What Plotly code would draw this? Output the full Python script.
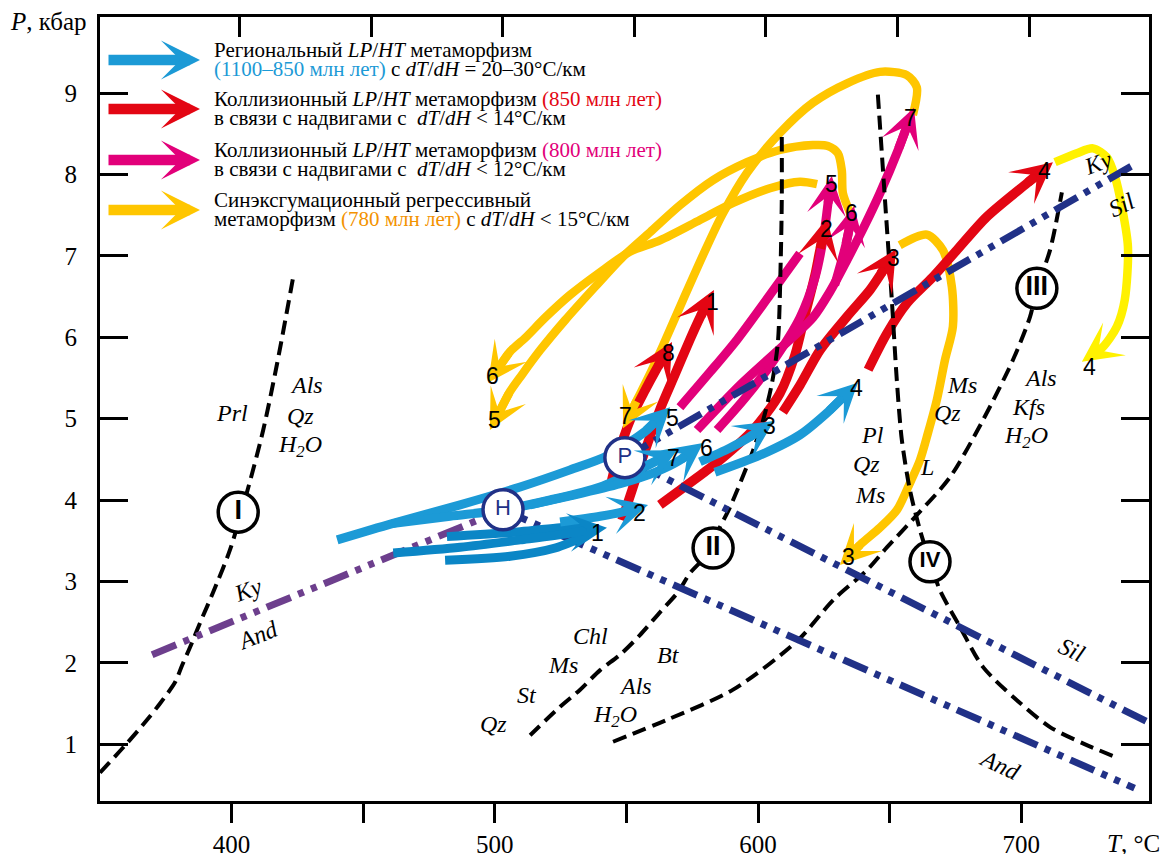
import plotly.graph_objects as go

SERIF = "Liberation Serif"
SANS = "Liberation Sans"

GOLD = "#ffc600"
LEMON = "#fff100"
RED = "#e30613"
MAGENTA = "#e2007a"
BLUE = "#1c9ad6"
BLUE_DK = "#0b86c6"
NAVY = "#213187"
PURPLE = "#6d3f8d"
ORANGE = "#f39200"

# ---------------- axes ----------------
T_TICKS = [400, 450, 500, 550, 600, 650, 700]
T_TICK_TEXT = ["400", "", "500", "", "600", "", "700"]
P_TICKS = [1, 2, 3, 4, 5, 6, 7, 8, 9]

# ---------------- reaction curves (T, °C ; P, kbar) ----------------
rxnI_T = [350.0, 360.2, 367.9, 372.8, 378.5, 381.2, 384.2, 388.0, 392.9, 399.4, 406.3, 412.0, 417.3, 423.4]
rxnI_P = [0.65, 1.01, 1.30, 1.50, 1.76, 1.97, 2.19, 2.49, 2.86, 3.39, 4.15, 4.86, 5.68, 6.74]

rxnII_T = [609.0, 609.0, 608.6, 607.5, 605.3, 601.9, 598.1, 589.3, 584.4, 582.9, 574.1, 569.6, 562.7,
           555.1, 547.6, 540.0, 532.4, 524.8, 513.4]
rxnII_P = [8.46, 7.69, 6.95, 5.93, 5.44, 4.98, 4.61, 3.91, 3.59, 3.41, 3.10, 2.87, 2.62,
           2.34, 2.10, 1.91, 1.67, 1.46, 1.11]

rxnIII_T = [544.9, 565.4, 590.5, 615.2, 628.5, 641.4, 649.0, 659.6, 672.9, 685.4, 696.8, 703.3, 705.9, 710.9, 715.4]
rxnIII_P = [1.03, 1.30, 1.67, 2.28, 2.77, 3.14, 3.42, 3.79, 4.28, 4.98, 5.72, 6.25, 6.60, 7.07, 7.78]

rxnIV_T = [645.5, 648.2, 650.8, 652.7, 654.6, 657.7, 661.5, 665.3, 669.1, 676.7, 685.4, 698.3, 710.9, 723.4, 736.7]
rxnIV_P = [8.98, 7.69, 6.46, 5.47, 4.74, 4.12, 3.63, 3.24, 2.89, 2.44, 1.95, 1.54, 1.21, 1.01, 0.83]

# Al2SiO5 equilibria (H - Holdaway, P - Pattison triple points)
ky_and_T = [369.8, 503.1]
ky_and_P = [2.10, 3.88]
and_sil_H_T = [503.1, 743.0]
and_sil_H_P = [3.88, 0.46]
and_sil_P_T = [549.4, 748.1]
and_sil_P_P = [4.52, 1.27]
ky_sil_P_T = [549.4, 743.9]
ky_sil_P_P = [4.52, 8.14]

# ---------------- P-T paths ----------------
# synexhumation regressive paths (780 Ma)
y3_T = [653.8, 664.1, 670.2, 673.6, 674.0, 671.0, 667.9, 664.5, 661.5, 657.7, 652.8, 646.3, 639.4, 631.1]
y3_P = [7.13, 7.26, 7.07, 6.62, 6.13, 5.72, 5.23, 4.82, 4.49, 4.21, 3.88, 3.66, 3.47, 3.20]
y7_T = [658.8, 660.3, 656.5, 646.3, 633.8, 620.8, 608.3, 595.8, 586.3, 579.1, 571.5, 563.9, 558.2, 554.0, 548.7]
y7_P = [8.73, 9.07, 9.22, 9.26, 9.12, 8.88, 8.51, 8.02, 7.50, 7.01, 6.46, 5.90, 5.50, 5.23, 4.88]
y5_T = [634.8, 632.2, 631.8, 630.3, 626.5, 620.8, 608.3, 595.8, 582.9, 570.3, 559.0, 548.7, 538.1,
        526.7, 517.2, 510.3, 505.7, 498.1]
y5_P = [7.54, 7.77, 8.05, 8.26, 8.35, 8.36, 8.30, 8.15, 7.93, 7.62, 7.29, 6.99, 6.62,
        6.21, 5.84, 5.54, 5.33, 4.86]
y6_T = [622.4, 615.9, 604.5, 590.5, 577.9, 562.7, 551.3, 540.0, 528.6, 519.1, 511.5, 505.7, 497.4]
y6_P = [7.88, 7.91, 7.83, 7.65, 7.44, 7.19, 7.05, 6.80, 6.52, 6.24, 5.99, 5.82, 5.44]
y4_T = [712.8, 721.1, 727.2, 732.5, 735.6, 738.2, 740.5, 739.3, 736.3, 731.0, 723.0]
y4_P = [8.15, 8.26, 8.32, 8.21, 7.97, 7.60, 7.11, 6.46, 6.13, 5.88, 5.70]

# collisional paths, 850 Ma
r1_T = [548.3, 552.1, 557.1, 562.7, 568.4, 574.1, 577.9, 583.2]
r1_P = [3.75, 4.12, 4.61, 5.11, 5.54, 5.97, 6.24, 6.58]
r8_T = [543.8, 546.8, 551.4, 557.1, 561.6, 567.3]
r8_P = [4.16, 4.55, 4.98, 5.35, 5.62, 5.94]
r2_T = [562.7, 579.1, 585.5, 598.1, 608.3, 614.0, 617.8, 621.6, 623.5, 626.2]
r2_P = [3.94, 4.33, 4.49, 4.86, 5.31, 5.78, 6.27, 6.76, 7.07, 7.46]
r3_T = [609.4, 615.9, 623.5, 633.7, 642.5, 646.3, 652.4]
r3_P = [5.08, 5.41, 5.84, 6.25, 6.58, 6.76, 7.08]
r4_T = [641.8, 649.0, 656.6, 666.4, 675.5, 686.9, 702.1, 712.0]
r4_P = [5.60, 6.05, 6.42, 6.74, 7.07, 7.48, 7.89, 8.15]

# collisional paths, 800 Ma
ma_T = [570.3, 581.7, 592.0, 604.5, 615.9]
ma_P = [5.14, 5.57, 5.97, 6.52, 7.03]
m5_T = [584.4, 595.0, 605.6, 615.9, 621.6, 625.0, 626.5, 628.0]
m5_P = [4.86, 5.25, 5.70, 6.24, 6.73, 7.26, 7.63, 7.98]
m6_T = [629.1, 633.3, 636.4]
m6_P = [6.64, 7.13, 7.61]
m7_T = [576.8, 593.1, 612.1, 620.8, 627.3, 633.8, 640.6, 646.3, 653.2, 659.2]
m7_P = [4.86, 5.41, 5.97, 6.24, 6.56, 6.95, 7.38, 7.77, 8.30, 8.82]

# regional paths, 1100-850 Ma
b5_T = [440.1, 461.0, 486.8, 509.6, 528.6, 542.6, 557.0, 566.6]
b5_P = [3.51, 3.71, 3.94, 4.16, 4.37, 4.54, 4.84, 5.14]
b7_T = [461.0, 483.0, 503.1, 521.0, 540.0, 557.0, 569.2]
b7_P = [3.71, 3.80, 3.88, 4.00, 4.16, 4.41, 4.61]
b6_T = [513.3, 528.6, 547.6, 560.8, 570.3, 579.1]
b6_P = [3.94, 4.05, 4.20, 4.34, 4.49, 4.70]
b2_T = [524.8, 540.0, 548.3, 558.2]
b2_P = [3.73, 3.80, 3.85, 3.94]
b3_T = [577.9, 589.3, 596.1, 606.0]
b3_P = [4.47, 4.64, 4.76, 4.97]
b4_T = [583.6, 600.7, 615.9, 626.5, 637.9]
b4_P = [4.34, 4.55, 4.80, 5.08, 5.44]
b1_T = [461.4, 486.8, 509.6, 528.6, 535.3, 542.6]
b1_P = [3.35, 3.42, 3.51, 3.59, 3.63, 3.66]
b1a_T = [481.8, 509.6, 524.8, 535.3]
b1a_P = [3.55, 3.61, 3.66, 3.68]
b1c_T = [481.1, 505.8, 522.9, 535.3]
b1c_P = [3.26, 3.31, 3.41, 3.57]

# labelled points (circles)
node_names = ["I", "H", "P", "II", "III", "IV"]
node_T = [402.5, 503.1, 549.4, 582.9, 705.9, 665.3]
node_P = [3.85, 3.88, 4.52, 3.41, 6.60, 3.24]

# mineral assemblage labels: text, T, P, angle
field_labels = [
    ("Prl", 400.2, 5.07, 0), ("Als", 428.3, 5.41, 0), ("Qz", 426.0, 5.03, 0),
    ("H<sub>2</sub>O", 426.0, 4.66, 0),
    ("Ky", 406.3, 2.89, -20), ("And", 410.1, 2.34, -22),
    ("Chl", 536.2, 2.33, 0), ("Ms", 525.9, 1.97, 0), ("St", 512.2, 1.60, 0), ("Qz", 499.3, 1.25, 0),
    ("Bt", 565.8, 2.10, 0), ("Als", 553.3, 1.72, 0), ("H<sub>2</sub>O", 545.7, 1.35, 0),
    ("Pl", 643.3, 4.80, 0), ("Qz", 641.0, 4.44, 0), ("Ms", 642.5, 4.06, 0), ("L", 664.1, 4.41, 0),
    ("Ms", 677.4, 5.41, 0), ("Qz", 672.1, 5.07, 0),
    ("Als", 707.1, 5.50, 0), ("Kfs", 702.9, 5.14, 0), ("H<sub>2</sub>O", 701.8, 4.77, 0),
    ("Ky", 729.1, 8.14, -20), ("Sil", 738.2, 7.62, -25),
    ("Sil", 719.2, 2.16, 25), ("And", 691.9, 0.74, 25),
]

fig = go.Figure()
number_labels = []


def add_line(T, P, color, width, dash=None, shape="spline"):
    fig.add_trace(go.Scatter(
        x=T, y=P, mode="lines", hoverinfo="skip", showlegend=False,
        line=dict(color=color, width=width, dash=dash, shape=shape, smoothing=0.8),
    ))


def add_path(T, P, color, width, label=None, shift=(0, 0), head=True, size=0.72):
    if head:
        # body runs into the middle of the last segment, hidden under the head
        mid_T = 0.5 * (T[-2] + T[-1])
        mid_P = 0.5 * (P[-2] + P[-1])
        add_line(list(T[:-1]) + [mid_T], list(P[:-1]) + [mid_P], color, width)
        fig.add_annotation(
            x=T[-1], y=P[-1], ax=T[-2], ay=P[-2], xref="x", yref="y", axref="x", ayref="y",
            text="", showarrow=True, arrowhead=3, arrowwidth=width, arrowsize=size,
            arrowcolor=color, standoff=0, startstandoff=0,
        )
    else:
        add_line(T, P, color, width)
    if label is not None:
        number_labels.append((label, T[-1], P[-1], shift))


# synexhumation paths (bottom layer)
add_path(y7_T, y7_P, GOLD, 8.5, "7", (2, 12), size=0.78)
add_path(y5_T, y5_P, GOLD, 8.5, "5", (5, 10), size=0.78)
add_path(y6_T, y6_P, GOLD, 8.5, "6", (4, 7), size=0.78)
add_path(y3_T, y3_P, GOLD, 8.5, "3", (9, 8), size=0.78)
add_path(y4_T, y4_P, LEMON, 8.5, "4", (8, -5), size=0.78)

# collisional 850 Ma
add_path(r8_T, r8_P, RED, 9.5, "8", (-4, -11))
add_path(r1_T, r1_P, RED, 9.5, "1", (-1, -12))
add_path(r2_T, r2_P, RED, 9.5, "2", (-1, -11))
add_path(r3_T, r3_P, RED, 9.5, "3", (-3, -9))
add_path(r4_T, r4_P, RED, 9.5, "4", (-8, -9))

# collisional 800 Ma
add_path(ma_T, ma_P, MAGENTA, 9, head=False)
add_path(m5_T, m5_P, MAGENTA, 9, "5", (0, -8))
add_path(m6_T, m6_P, MAGENTA, 9, "6", (-2, -7))
add_path(m7_T, m7_P, MAGENTA, 9, "7", (-3, -10))

# reaction curves
DASH = "14px,7px"
for T, P in [(rxnI_T, rxnI_P), (rxnII_T, rxnII_P), (rxnIII_T, rxnIII_P), (rxnIV_T, rxnIV_P)]:
    add_line(T, P, "black", 4, dash=DASH)

DDOT = "26px,8px,6px,8px,6px,8px"
add_line(ky_and_T, ky_and_P, PURPLE, 7, dash=DDOT, shape="linear")
add_line(and_sil_H_T, and_sil_H_P, NAVY, 7, dash=DDOT, shape="linear")
add_line(and_sil_P_T, and_sil_P_P, NAVY, 7, dash=DDOT, shape="linear")
add_line(ky_sil_P_T, ky_sil_P_P, NAVY, 7, dash=DDOT, shape="linear")

# regional paths (top layer)
add_path(b1a_T, b1a_P, BLUE_DK, 9, head=False)
add_path(b1c_T, b1c_P, BLUE_DK, 9, head=False)
add_path(b1_T, b1_P, BLUE_DK, 9, "1", (-9, -5))
add_path(b5_T, b5_P, BLUE, 9, "5", (2, -11))
add_path(b7_T, b7_P, BLUE, 9, "7", (-4, -8))
add_path(b6_T, b6_P, BLUE, 9, "6", (3, -5))
add_path(b2_T, b2_P, BLUE, 9, "2", (-9, -8))
add_path(b3_T, b3_P, BLUE, 9, "3", (-4, -5))
add_path(b4_T, b4_P, BLUE, 9, "4", (-1, -5))

# circled points
node_line = [NAVY if n in ("H", "P") else "black" for n in node_names]
node_text = [n if n in ("H", "P") else "<b>%s</b>" % n for n in node_names]
node_font = [22 if n in ("H", "P") else (22 if n == "IV" else 27) for n in node_names]
fig.add_trace(go.Scatter(
    x=node_T, y=node_P, mode="markers+text", hoverinfo="skip", showlegend=False,
    marker=dict(size=40, color="white", line=dict(color=node_line, width=3.5)),
    text=node_text, textposition="middle center",
    textfont=dict(family=SANS, size=node_font, color=node_line),
))

# helper trace for the top tick axis
fig.add_trace(go.Scatter(x=[400], y=[1], xaxis="x2", yaxis="y", mode="markers",
                         marker=dict(size=0, opacity=0), hoverinfo="skip", showlegend=False))

# numbers on the arrows
for text, T, P, (dx, dy) in number_labels:
    fig.add_annotation(x=T, y=P, xref="x", yref="y", text=text, showarrow=False,
                       xshift=dx, yshift=dy, font=dict(family=SANS, size=23, color="black"))

# mineral labels
for text, T, P, ang in field_labels:
    fig.add_annotation(x=T, y=P, xref="x", yref="y", text="<i>%s</i>" % text, showarrow=False,
                       textangle=ang, font=dict(family=SERIF, size=24, color="black"))

# ---------------- legend ----------------
PLOT_L, PLOT_W, PLOT_B, PLOT_H = 100, 1049, 801, 784


def px_x(px):
    return (px - PLOT_L) / PLOT_W


def px_y(py):
    return (PLOT_B - py) / PLOT_H


legend_colors = [BLUE, RED, MAGENTA, GOLD]
legend_arrow_y = [60, 109, 160, 210]
legend_line1 = [
    "Региональный <i>LP</i>/<i>HT</i> метаморфизм",
    "Коллизионный <i>LP</i>/<i>HT</i> метаморфизм <span style='color:%s'>(850 млн лет)</span>" % RED,
    "Коллизионный <i>LP</i>/<i>HT</i> метаморфизм <span style='color:%s'>(800 млн лет)</span>" % MAGENTA,
    "Синэксгумационный регрессивный",
]
legend_line2 = [
    "<span style='color:%s'>(1100–850 млн лет)</span> с <i>dT</i>/<i>dH</i> = 20–30°C/км" % BLUE,
    "в связи с надвигами с  <i>dT</i>/<i>dH</i> &lt; 14°C/км",
    "в связи с надвигами с  <i>dT</i>/<i>dH</i> &lt; 12°C/км",
    "метаморфизм <span style='color:%s'>(780 млн лет)</span> с <i>dT</i>/<i>dH</i> &lt; 15°C/км" % ORANGE,
]
for color, ya, l1, l2 in zip(legend_colors, legend_arrow_y, legend_line1, legend_line2):
    fig.add_annotation(x=px_x(200), y=px_y(ya), xref="paper", yref="paper", ax=-93, ay=0,
                       text="", showarrow=True, arrowhead=3, arrowwidth=10.5, arrowsize=0.62,
                       arrowcolor=color, standoff=0, startstandoff=0)
    fig.add_annotation(x=px_x(212), y=px_y(ya - 10), xref="paper", yref="paper", xanchor="left",
                       yanchor="middle", text=l1, showarrow=False, align="left",
                       font=dict(family=SERIF, size=21, color="black"))
    fig.add_annotation(x=px_x(212), y=px_y(ya + 9), xref="paper", yref="paper", xanchor="left",
                       yanchor="middle", text=l2, showarrow=False, align="left",
                       font=dict(family=SERIF, size=21, color="black"))

# axis titles
fig.add_annotation(x=px_x(8), y=px_y(22), xref="paper", yref="paper", xanchor="left", yanchor="middle",
                   text="<i>P</i>, кбар", showarrow=False, font=dict(family=SERIF, size=25, color="black"))
fig.add_annotation(x=px_x(1105), y=px_y(843), xref="paper", yref="paper", xanchor="left", yanchor="middle",
                   text="<i>T</i>, °C", showarrow=False, font=dict(family=SERIF, size=25, color="black"))

fig.update_layout(
    width=1164, height=854,
    margin=dict(l=PLOT_L, r=1164 - PLOT_L - PLOT_W, t=PLOT_B - PLOT_H, b=854 - PLOT_B),
    paper_bgcolor="white", plot_bgcolor="white", showlegend=False,
    xaxis=dict(range=[350, 748.5], tickvals=T_TICKS, ticktext=T_TICK_TEXT, ticks="outside",
               ticklen=19, tickwidth=3, tickcolor="black", showline=True, linecolor="black",
               linewidth=3, mirror=True, showgrid=False, zeroline=False, ticklabelstandoff=0,
               automargin=False, tickfont=dict(family=SERIF, size=25, color="black")),
    xaxis2=dict(range=[347, 745.5], overlaying="x", side="top", tickvals=T_TICKS, ticks="inside",
                ticklen=20, tickwidth=3, tickcolor="black", showticklabels=False, showline=False,
                showgrid=False, zeroline=False, automargin=False),
    yaxis=dict(range=[0.302, 9.934], tickvals=P_TICKS, ticks="inside", ticklen=28, tickwidth=3,
               tickcolor="black", showline=True, linecolor="black", linewidth=3, mirror="ticks",
               showgrid=False, zeroline=False, ticklabelstandoff=15, automargin=False,
               tickfont=dict(family=SERIF, size=25, color="black")),
)

fig.write_html("out.html", config={"displayModeBar": False})
